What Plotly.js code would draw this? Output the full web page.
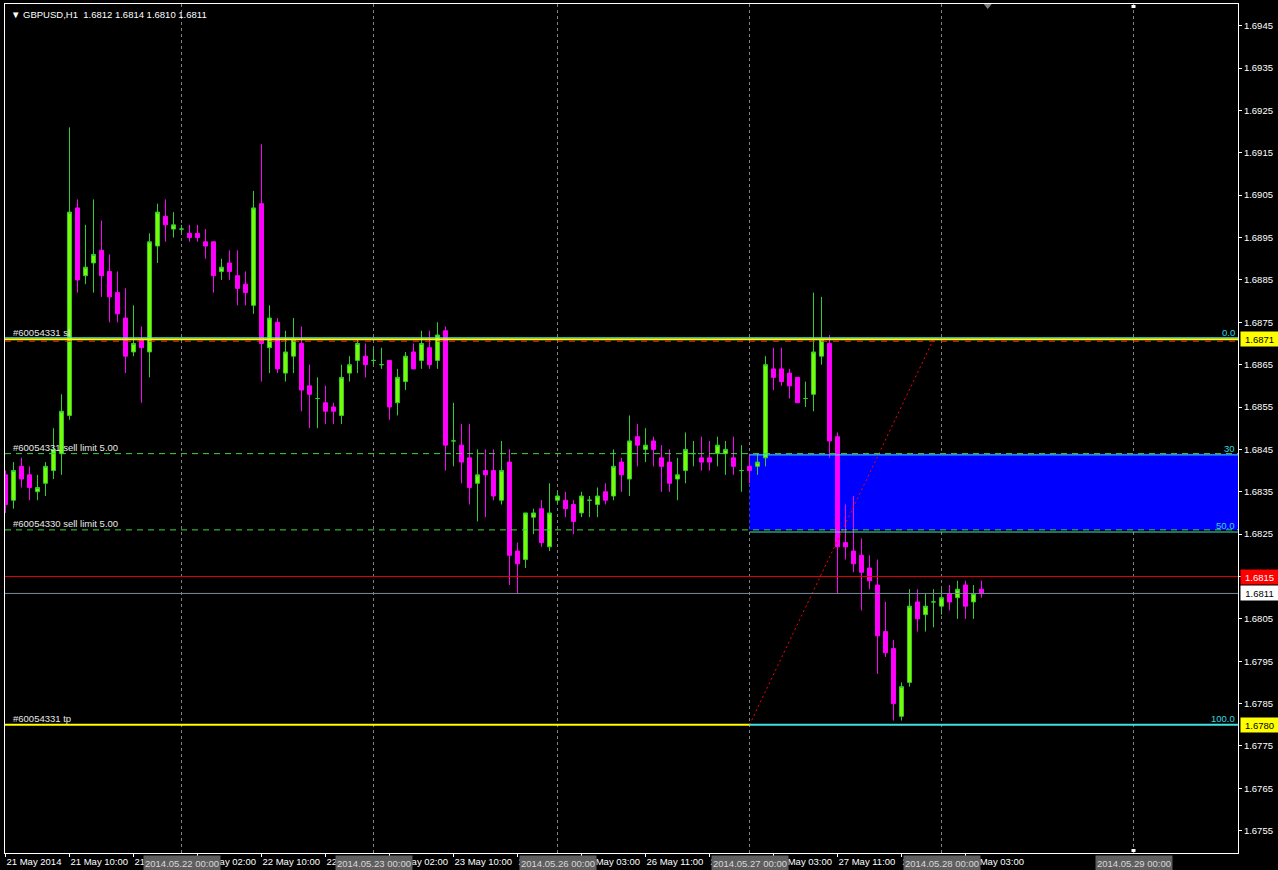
<!DOCTYPE html>
<html><head><meta charset="utf-8">
<script src="https://cdn.plot.ly/plotly-3.0.1.min.js"></script>
<style>html,body{margin:0;padding:0;background:#000;overflow:hidden}#chart{width:1278px;height:870px}</style>
</head><body><div id="chart"></div>
<script>
// GBPUSD H1 bars, 21 May 2014 02:00 .. 28 May 2014 05:00 (bar index = position on time axis)
const openP = [1.6839,1.6833,1.6841,1.6839,1.6835,1.6837,1.6840,1.6844,1.6853,1.6902,
1.6886,1.6889,1.6892,1.6887,1.6882,1.6876,1.6868,1.6871,1.6868,1.6893,
1.6900,1.6897,1.6897,1.6896,1.6896,1.6894,1.6894,1.6887,1.6889,1.6886,
1.6884,1.6879,1.6903,1.6869,1.6875,1.6863,1.6867,1.6870,1.6860,1.6857,
1.6856,1.6855,1.6853,1.6863,1.6866,1.6867,1.6866,1.6865,1.6866,1.6856,
1.6861,1.6868,1.6866,1.6869,1.6866,1.6873,1.6847,1.6846,1.6843,1.6837,
1.6840,1.6840,1.6833,1.6842,1.6821,1.6819,1.6829,1.6831,1.6822,1.6833,
1.6833,1.6832,1.6830,1.6833,1.6832,1.6835,1.6834,1.6842,1.6838,1.6848,
1.6845,1.6847,1.6843,1.6842,1.6838,1.6840,1.6844,1.6843,1.6843,1.6844,
1.6844,1.6843,1.6840,1.6841,1.6841,1.6843,1.6864,1.6864,1.6863,1.6862,
1.6857,1.6858,1.6867,1.6870,1.6848,1.6823,1.6821,1.6820,1.6817,1.6813,
1.6802,1.6798,1.6782,1.6790,1.6809,1.6806,1.6809,1.6808,1.6811,1.6810,
1.6813,1.6809,1.6812];
const highP = [1.6840,1.6842,1.6843,1.6841,1.6839,1.6842,1.6850,1.6858,1.6921,1.6904,
1.6898,1.6904,1.6899,1.6891,1.6887,1.6883,1.6879,1.6874,1.6896,1.6903,
1.6904,1.6901,1.6898,1.6898,1.6898,1.6897,1.6894,1.6890,1.6892,1.6892,
1.6887,1.6906,1.6917,1.6879,1.6876,1.6873,1.6876,1.6874,1.6865,1.6862,
1.6860,1.6856,1.6865,1.6867,1.6871,1.6870,1.6869,1.6869,1.6866,1.6864,
1.6868,1.6870,1.6873,1.6873,1.6875,1.6874,1.6856,1.6851,1.6851,1.6845,
1.6845,1.6845,1.6847,1.6845,1.6823,1.6830,1.6831,1.6833,1.6837,1.6835,
1.6835,1.6833,1.6835,1.6834,1.6836,1.6837,1.6845,1.6843,1.6853,1.6851,
1.6850,1.6848,1.6846,1.6845,1.6843,1.6849,1.6847,1.6848,1.6847,1.6848,
1.6847,1.6848,1.6846,1.6844,1.6844,1.6867,1.6869,1.6869,1.6864,1.6862,
1.6861,1.6882,1.6881,1.6872,1.6849,1.6832,1.6834,1.6824,1.6820,1.6819,
1.6809,1.6800,1.6790,1.6812,1.6812,1.6811,1.6812,1.6812,1.6813,1.6814,
1.6814,1.6813,1.6814];
const lowP = [1.6830,1.6831,1.6836,1.6833,1.6833,1.6834,1.6838,1.6839,1.6852,1.6882,
1.6884,1.6882,1.6881,1.6875,1.6875,1.6863,1.6867,1.6856,1.6862,1.6889,
1.6894,1.6895,1.6896,1.6894,1.6894,1.6890,1.6882,1.6885,1.6885,1.6879,
1.6879,1.6877,1.6861,1.6863,1.6863,1.6861,1.6863,1.6854,1.6850,1.6850,
1.6851,1.6851,1.6851,1.6861,1.6863,1.6862,1.6865,1.6864,1.6852,1.6853,
1.6859,1.6864,1.6864,1.6864,1.6864,1.6840,1.6841,1.6837,1.6832,1.6828,
1.6829,1.6833,1.6832,1.6813,1.6811,1.6817,1.6825,1.6822,1.6821,1.6832,
1.6829,1.6825,1.6829,1.6829,1.6829,1.6832,1.6833,1.6835,1.6834,1.6841,
1.6842,1.6841,1.6835,1.6835,1.6833,1.6837,1.6841,1.6840,1.6840,1.6841,
1.6839,1.6839,1.6835,1.6837,1.6839,1.6841,1.6859,1.6860,1.6857,1.6856,
1.6855,1.6854,1.6865,1.6843,1.6811,1.6819,1.6816,1.6807,1.6812,1.6792,
1.6796,1.6781,1.6781,1.6789,1.6802,1.6802,1.6803,1.6806,1.6807,1.6805,
1.6805,1.6805,1.6810];
const closeP = [1.6832,1.6840,1.6838,1.6836,1.6836,1.6841,1.6845,1.6854,1.6901,1.6885,
1.6888,1.6891,1.6886,1.6881,1.6877,1.6867,1.6870,1.6869,1.6894,1.6901,
1.6898,1.6898,1.6897,1.6895,1.6895,1.6893,1.6886,1.6888,1.6887,1.6883,
1.6882,1.6902,1.6870,1.6876,1.6864,1.6868,1.6871,1.6859,1.6858,1.6857,
1.6854,1.6854,1.6862,1.6865,1.6870,1.6865,1.6866,1.6865,1.6855,1.6862,
1.6867,1.6864,1.6870,1.6865,1.6872,1.6846,1.6847,1.6842,1.6836,1.6839,
1.6839,1.6834,1.6840,1.6820,1.6818,1.6830,1.6830,1.6823,1.6830,1.6834,
1.6831,1.6828,1.6834,1.6833,1.6834,1.6833,1.6841,1.6839,1.6847,1.6846,
1.6846,1.6845,1.6841,1.6837,1.6839,1.6845,1.6844,1.6842,1.6842,1.6846,
1.6845,1.6841,1.6840,1.6840,1.6842,1.6865,1.6862,1.6861,1.6860,1.6856,
1.6857,1.6868,1.6871,1.6847,1.6822,1.6822,1.6818,1.6816,1.6814,1.6801,
1.6797,1.6785,1.6789,1.6808,1.6805,1.6808,1.6809,1.6810,1.6809,1.6812,
1.6808,1.6811,1.6811];

// time axis labels (bar index -> text)
const tickIndex = [0,8,16,24,32,40,48,56,64,72,80,88,96,104,112,120];
const tickText = ['21 May 2014','21 May 10:00','21 May 18:00','22 May 02:00','22 May 10:00','22 May 18:00',
  '23 May 02:00','23 May 10:00','23 May 18:00','26 May 03:00','26 May 11:00','26 May 19:00',
  '27 May 03:00','27 May 11:00','27 May 19:00','28 May 03:00'];
// vertical day lines
const dayLineIndex = [22,46,69,93,117,141];
const dayLineText = ['2014.05.22 00:00','2014.05.23 00:00','2014.05.26 00:00','2014.05.27 00:00','2014.05.28 00:00','2014.05.29 00:00'];

// order / price levels
const slPrice = 1.6871, tpPrice = 1.6780;
const sellLimitPrices = [1.6844, 1.6826];
const sellLimitText = ['#60054331 sell limit 5.00', '#60054330 sell limit 5.00'];
const askLinePrice = 1.6815, bidLinePrice = 1.6811;
// fibonacci object
const fiboIndex = [93, 116];
const fiboPrice = [1.6780, 1.6871];
const fiboLevels = [0, 30, 50, 100];
const fiboLevelText = ['0.0', '30', '50.0', '100.0'];
// rectangle zone
const zoneStartIndex = 93, zoneTop = 1.6844, zoneBottom = 1.6826;
const header = '\u25BC GBPUSD,H1\u00a0\u00a01.6812 1.6814 1.6810 1.6811';

const FONT = 'Liberation Sans, Arial, sans-serif';
const barIndex = openP.map((_, i) => i);
const bull = {x:[],open:[],high:[],low:[],close:[]}, bear = {x:[],open:[],high:[],low:[],close:[]};
barIndex.forEach(i => {
  const t = closeP[i] >= openP[i] ? bull : bear;
  t.x.push(i); t.open.push(openP[i]); t.high.push(highP[i]); t.low.push(lowP[i]); t.close.push(closeP[i]);
});
function candle(d, line, fill) {
  const st = {line:{color:line,width:1}, fillcolor:fill};
  return Object.assign({type:'candlestick', whiskerwidth:0, hoverinfo:'skip', showlegend:false,
    increasing:st, decreasing:st}, d);
}
const fibHigh = fiboPrice[1], fibLow = fiboPrice[0];
const fibLevelPrice = fiboLevels.map(l => fibHigh - l/100*(fibHigh - fibLow));

const traces = [
  candle(bull, '#32CD32', '#7CFC00'),
  candle(bear, '#FF00FF', '#FF00FF'),
  {type:'scatter', mode:'lines', x:fiboIndex, y:fiboPrice, hoverinfo:'skip', showlegend:false,
   line:{color:'#FF0000', width:1, dash:'2px,3px'}}
];

const shapes = [];
dayLineIndex.forEach(ix => shapes.push({type:'line', layer:'below', xref:'x', yref:'paper', x0:ix, x1:ix, y0:0, y1:1,
  line:{color:'#808080', width:1, dash:'3px,3px'}}));
shapes.push({type:'rect', layer:'below', xref:'x', yref:'y', x0:zoneStartIndex, x1:200, y0:zoneBottom, y1:zoneTop,
  fillcolor:'#0000FF', line:{width:0}});
// bid / alert lines
shapes.push({type:'line', xref:'paper', yref:'y', x0:0, x1:1, y0:askLinePrice, y1:askLinePrice, line:{color:'#E00000', width:1}});
shapes.push({type:'line', xref:'paper', yref:'y', x0:0, x1:1, y0:bidLinePrice, y1:bidLinePrice, line:{color:'#778899', width:1}});
// fibo level rays
fibLevelPrice.forEach((p, k) => shapes.push({type:'line', xref:'x', yref:'y', x0:fiboIndex[0], x1:200, y0:p, y1:p,
  line:{color:'#40E0E0', width: k === 3 ? 2 : 1}}));
// sell limit lines
sellLimitPrices.forEach(p => shapes.push({type:'line', xref:'paper', yref:'y', x0:0, x1:1, y0:p, y1:p,
  line:{color:'#3CD83C', width:1, dash:'6px,5px'}}));
// sl: red dashed just under a yellow line
shapes.push({type:'line', xref:'paper', yref:'y', ysizemode:'pixel', yanchor:slPrice, x0:0, x1:1, y0:-2, y1:-2,
  line:{color:'#FF2000', width:1, dash:'6px,6px'}});
shapes.push({type:'line', xref:'paper', yref:'y', x0:0, x1:1, y0:slPrice, y1:slPrice, line:{color:'#FFFF00', width:2}});
shapes.push({type:'line', xref:'paper', yref:'y', ysizemode:'pixel', yanchor:slPrice, x0:0, x1:1, y0:1.5, y1:1.5,
  line:{color:'#40E0E0', width:1}});
// tp yellow up to fibo start, then cyan ray
shapes.push({type:'line', xref:'x', yref:'y', x0:-1, x1:fiboIndex[0], y0:tpPrice, y1:tpPrice, line:{color:'#FFFF00', width:2}});
// small markers of the vertical line object and chart-shift marker
shapes.push({type:'rect', xref:'x', yref:'paper', xsizemode:'pixel', ysizemode:'pixel', xanchor:dayLineIndex[5], yanchor:1,
  x0:-2, x1:2, y0:-1, y1:-4, fillcolor:'#FFFFFF', line:{width:0}});
shapes.push({type:'rect', xref:'x', yref:'paper', xsizemode:'pixel', ysizemode:'pixel', xanchor:dayLineIndex[5], yanchor:0,
  x0:-2, x1:2, y0:1, y1:4, fillcolor:'#FFFFFF', line:{width:0}});
shapes.push({type:'path', xref:'paper', yref:'paper', xsizemode:'pixel', ysizemode:'pixel', xanchor:0.797, yanchor:1,
  path:'M -4,0 L 4,0 L 0,-5 Z', fillcolor:'#808080', line:{width:0}});

const ann = [];
ann.push({xref:'paper', yref:'paper', x:0, y:1, xanchor:'left', yanchor:'top', xshift:4, yshift:-3, showarrow:false,
  text:header, font:{family:FONT, size:9.5, color:'#FFFFFF'}});
function leftLabel(text, price) {
  ann.push({xref:'paper', yref:'y', x:0, y:price, xanchor:'left', yanchor:'bottom', xshift:6, yshift:-1, showarrow:false,
    text:text, font:{family:FONT, size:9.5, color:'#E8E8E8'}});
}
leftLabel('#60054331 sl', slPrice);
sellLimitPrices.forEach((p, k) => leftLabel(sellLimitText[k], p));
leftLabel('#60054331 tp', tpPrice);
fibLevelPrice.forEach((p, k) => ann.push({xref:'paper', yref:'y', x:1, y:p, xanchor:'right', yanchor:'bottom', xshift:-1, yshift:-1,
  showarrow:false, text:fiboLevelText[k], font:{family:FONT, size:9.5, color:'#30D8E0'}}));
function priceTag(price, bg, fg) {
  ann.push({xref:'paper', yref:'y', x:1, y:price, xanchor:'left', yanchor:'middle', xshift:2, showarrow:false,
    text:price.toFixed(4), bgcolor:bg, width:35, height:12, borderpad:1, align:'center',
    font:{family:FONT, size:9.5, color:fg}});
}
priceTag(slPrice, '#FFFF00', '#000000');
priceTag(askLinePrice, '#FF0000', '#FFFFFF');
priceTag(bidLinePrice, '#FFFFFF', '#000000');
priceTag(tpPrice, '#FFFF00', '#000000');
dayLineIndex.forEach((ix, k) => ann.push({xref:'x', yref:'paper', x:ix, y:0, xanchor:'center', yanchor:'top', yshift:-2,
  showarrow:false, text:dayLineText[k], bgcolor:'#5E5E5E', width:74, height:12, borderpad:1,
  font:{family:FONT, size:9.5, color:'#D8D8D8'}}));

const layout = {
  width:1278, height:870, paper_bgcolor:'#000000', plot_bgcolor:'#000000',
  margin:{l:5, r:40, t:4, b:17, pad:0}, showlegend:false, hovermode:false,
  xaxis:{range:[-0.0625, 154.0625], rangeslider:{visible:false}, showgrid:false, zeroline:false,
    tickmode:'array', tickvals:tickIndex, ticktext:tickText, ticks:'outside', ticklen:3, tickcolor:'#FFFFFF',
    tickangle:0, automargin:false,
    ticklabelposition:'outside right', tickfont:{family:FONT, size:9.5, color:'#FFFFFF'},
    showline:true, linecolor:'#FFFFFF', linewidth:1, mirror:true, fixedrange:true},
  yaxis:{range:[1.674974, 1.695012], side:'right', showgrid:false, zeroline:false, automargin:false,
    tick0:1.6945, dtick:0.001, tickformat:'.4f', ticks:'outside', ticklen:3, tickcolor:'#FFFFFF',
    tickfont:{family:FONT, size:9.5, color:'#FFFFFF'},
    showline:true, linecolor:'#FFFFFF', linewidth:1, mirror:true, fixedrange:true},
  shapes:shapes, annotations:ann
};
Plotly.newPlot('chart', traces, layout, {displayModeBar:false, staticPlot:true});
</script></body></html>
